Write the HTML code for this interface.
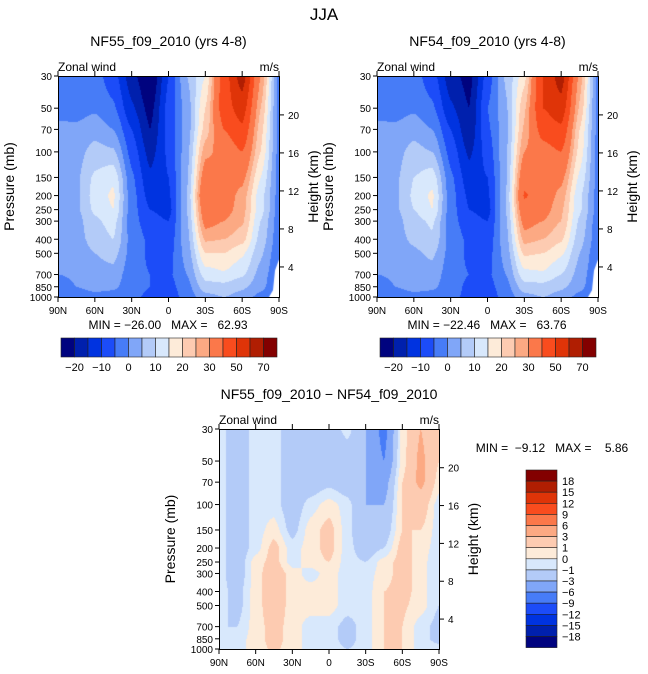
<!DOCTYPE html>
<html><head><meta charset="utf-8"><style>
html,body{margin:0;padding:0;background:#fff;}
#wrap{position:relative;width:648px;height:674px;overflow:hidden;font-family:"Liberation Sans",sans-serif;}
canvas{position:absolute;}
svg{position:absolute;left:0;top:0;}
text{font-family:"Liberation Sans",sans-serif;fill:#000;white-space:pre;}
</style></head><body>
<div id="wrap">
<canvas id="c1" width="221" height="221" style="left:58px;top:76px"></canvas>
<canvas id="c2" width="221" height="221" style="left:377px;top:76px"></canvas>
<canvas id="c3" width="220" height="220" style="left:219px;top:429px"></canvas>
<svg id="ov" width="648" height="674"></svg>
</div>
<script>
const lats=["90N","75N","60N","45N","30N","15N","0","15S","30S","45S","60S","75S","90S"];
const levels=[30,50,70,100,150,200,250,300,400,500,700,850,1000];
const pTicks=[30,50,70,100,150,200,250,300,400,500,700,850,1000];
const latTicks=["90N","60N","30N","0","30S","60S","90S"];
const hTicks=[4,8,12,16,20];
const bounds1=[-20,-15,-10,-5,0,5,10,15,20,25,30,40,50,60,70];
const cbLabels1=["-20","-10","0","10","20","30","50","70"];
const bounds3=[-18,-15,-12,-9,-6,-3,-1,0,1,3,6,9,12,15,18];
const cbLabels3=["-18","-15","-12","-9","-6","-3","-1","0","1","3","6","9","12","15","18"];
const colors=["#00037f","#0020ad","#0033e0","#1c4cf8","#477cf7","#80a6f8","#b3cbf8","#d8e8fc","#fdebd9","#fdcbb1","#fca983","#fb784a","#f94c1e","#df3408","#b01e02","#830000"];
const u55=[
[-3,-3,-3,-8,-18,-26,-10,5,15,45,65,30,-2],
[-3,-2,-1,-4,-14,-22,-8,2,20,45,55,25,-2],
[2,1,3,0,-10,-20,-8,2,22,40,48,22,-2],
[2,3,7,6,-7,-17,-9,3,28,33,40,20,-2],
[2,4,11,14,-4,-14,-10,4,35,32,32,15,-2],
[2,4,12,16,-3,-12,-11,5,40,34,28,12,-2],
[2,4,11,15,-3,-10,-12,5,36,33,27,12,-2],
[2,3,9,12,-3,-8,-10,4,33,30,26,10,-3],
[2,3,7,10,-2,-6,-8,3,26,25,22,8,-3],
[1,2,5,7,-2,-6,-7,2,20,20,16,6,-4],
[0,1,3,3,-3,-5,-6,0,12,14,11,3,-5],
[-3,0,2,1,-3,-5,-7,-2,8,8,6,2,-6],
[-5,-3,-2,-2,-4,-6,-8,-3,3,5,3,-2,-8]];
const u54=[
[-3,-3,-3,-8,-18,-22,-8,6,18,50,65,28,-2],
[-3,-2,-1,-4,-14,-20,-5,4,24,50,56,24,-2],
[2,1,3,0,-10,-19,-6,3,26,44,48,20,-2],
[2,3,7,5,-7,-16,-8,4,30,36,40,18,-2],
[2,4,10,13,-4,-13,-10,4,37,34,32,14,-2],
[2,4,11,16,-3,-11,-11,5,41,35,28,11,-2],
[2,4,10,15,-3,-10,-12,5,37,33,26,11,-2],
[2,3,8,11,-3,-8,-10,4,33,30,25,9,-3],
[2,3,6,9,-2,-6,-8,3,27,25,21,7,-3],
[1,2,4,6,-2,-6,-7,2,21,20,16,5,-4],
[0,1,3,3,-3,-5,-6,0,13,14,10,3,-5],
[-3,0,2,1,-3,-6,-7,-2,8,8,6,2,-6],
[-5,-3,-2,-2,-4,-6,-8,-3,3,5,3,-2,-8]];
const udiff=[
[-0.5,-2,-0.5,-0.5,-2,-3,-2,-0.5,-3,-7,0.5,3,1],
[-0.5,-2,-0.5,-0.5,-2,-2,-3,-2,-3,-6,0.5,3.5,1],
[-0.5,-2,-0.5,-0.5,-2,-2,-1.5,-2,-3,-4,1,3.5,0.5],
[-0.5,-2,-0.5,-0.5,-2,-0.5,0.5,-0.5,-3,-3,1,2,-0.5],
[-0.5,-2,-0.5,0.5,-1.5,0.5,1.5,-0.5,-3,-2,1,1,-0.5],
[-0.5,-2,-0.5,1.5,-0.5,0.5,1.5,-0.5,-2,-1,1.5,0.5,-0.5],
[-0.5,-2,0.5,1.5,-0.5,0.5,1,-0.5,-1,0.5,1.5,0.5,-1],
[-0.5,-2,0.5,2,0.5,-0.5,0.5,-0.5,-0.5,0.5,1.5,0.5,-1],
[-0.5,-1.5,0.5,2,0.5,0.5,0.5,-0.5,-0.5,1,1.5,0.5,-1],
[-0.5,-1.5,0.5,2,0.5,0.5,0.5,-0.5,-0.5,1,1.2,0.5,-1],
[-1,-1,0.5,1.5,0.5,-0.5,-0.5,-1.5,-0.5,1,1,-0.5,-1.5],
[-1,-0.5,0.5,1.5,0.5,-0.5,-0.5,-1.5,-0.5,1,1,-0.5,-1.5],
[-1,-0.5,0.5,1.2,0.5,-0.5,-0.5,-1,-0.5,1,1,-0.5,-0.5]];

const LR=Math.log(1000/30);
function yFrac(p){return Math.log(p/30)/LR;}
function colorFor(v,b){let i=0;while(i<b.length&&v>=b[i])i++;return colors[i];}
function sample(g,fx,fy){
  const cx=fx*(lats.length-1);const i0=Math.min(Math.floor(cx),lats.length-2);let tx=cx-i0;
  tx=tx*tx*(3-2*tx)*0.5+tx*0.5;
  const lp=Math.log(30)+fy*LR;let j0=0;
  while(j0<levels.length-2&&Math.log(levels[j0+1])<lp)j0++;
  const a=Math.log(levels[j0]),b=Math.log(levels[j0+1]);let ty=(lp-a)/(b-a);ty=Math.max(0,Math.min(1,ty));
  const v00=g[j0][i0],v01=g[j0][i0+1],v10=g[j0+1][i0],v11=g[j0+1][i0+1];
  return (v00*(1-tx)+v01*tx)*(1-ty)+(v10*(1-tx)+v11*tx)*ty;
}
function fill(id,g,b,mask){
  const c=document.getElementById(id),ctx=c.getContext('2d');const W=c.width,H=c.height;
  for(let py=0;py<H;py++)for(let px=0;px<W;px++){
    ctx.fillStyle=colorFor(sample(g,(px+0.5)/W,(py+0.5)/H),b);ctx.fillRect(px,py,1,1);}
  if(mask){ctx.fillStyle="#fff";ctx.beginPath();ctx.moveTo(W,H*0.83);ctx.lineTo(W-4,H*0.88);ctx.lineTo(W-6,H*0.97);ctx.lineTo(W-10,H);ctx.lineTo(W,H);ctx.fill();}
}
fill('c1',u55,bounds1,true);fill('c2',u54,bounds1,true);fill('c3',udiff,bounds3,false);

const NS="http://www.w3.org/2000/svg";const ov=document.getElementById('ov');
function el(tag,attrs,txt){const e=document.createElementNS(NS,tag);for(const k in attrs)e.setAttribute(k,attrs[k]);if(txt!==undefined)e.textContent=txt;ov.appendChild(e);return e;}
function txt(x,y,s,size,anchor,name,rot){const e=el('text',{x:x,y:y,'font-size':size,'text-anchor':anchor||'start'},s);


if(rot)e.setAttribute('transform','rotate(-90 '+x+' '+y+')');return e;}
function ln(x1,y1,x2,y2,name){const e=el('line',{x1:x1,y1:y1,x2:x2,y2:y2,stroke:'#000','stroke-width':1});

}

txt(324,20,"JJA",17,"middle","figure-title");
function axes(L,T,W,H,title,minmax,mmx,mmy){
  txt(L+W/2,T-30,title,14,"middle","panel-title");
  txt(L,T-5,"Zonal wind",12,"start","variable-label");
  txt(L+W,T-5,"m/s",12,"end","units-label");
  const r=el('rect',{x:L+0.5,y:T+0.5,width:W,height:H,fill:'none',stroke:'#000','stroke-width':1});
  
  
  pTicks.forEach(p=>{const y=T+H*yFrac(p);ln(L-4,y,L,y,'y-tick');txt(L-6,y+4,String(p),10,"end","y-tick-label");});
  latTicks.forEach((s,i)=>{const x=L+W*i/(latTicks.length-1);ln(x,T+H,x,T+H+5,'x-tick');ln(x,T-5,x,T,'x-tick-top');txt(x,T+H+17,s,10,"middle","x-tick-label");});
  hTicks.forEach(z=>{const y=T+H*(1.036-0.043*z);ln(L+W,y,L+W+5,y,'height-tick');txt(L+W+9,y+4,String(z),10,"start","height-tick-label");});
  txt(L-44,T+H/2,"Pressure (mb)",14,"middle","y-axis-title",true);
  txt(L+W+39,T+H/2,"Height (km)",14,"middle","height-axis-title",true);
  txt(mmx,mmy,minmax,12,"middle","min-max-label");
}
axes(58,76,221,221,"NF55_f09_2010 (yrs 4-8)","MIN = \u221226.00   MAX =   62.93",168,329);
axes(377,76,221,221,"NF54_f09_2010 (yrs 4-8)","MIN = \u221222.46   MAX =   63.76",487,329);
axes(219,429,220,220,"NF55_f09_2010 \u2212 NF54_f09_2010","MIN =  \u22129.12   MAX =    5.86",552,452);

function hbar(L,T){
  const bw=13.5,bh=19;
  colors.forEach((c,i)=>{const r=el('rect',{x:L+i*bw,y:T,width:bw,height:bh,fill:c,stroke:'#222','stroke-width':0.6});
  
  });
  cbLabels1.forEach((s,k)=>{const x=L+bw*(1+2*k);txt(x,T+bh+14,s.replace('-','\u2212'),11,"middle","colorbar-label");});
}
hbar(61,338);hbar(380,338);
(function(){const L=526,T=470,bw=31,bh=11.1;
  colors.slice().reverse().forEach((c,i)=>{const r=el('rect',{x:L,y:T+i*bh,width:bw,height:bh,fill:c,stroke:'#222','stroke-width':0.6});
  
  });
  cbLabels3.slice().reverse().forEach((s,i)=>{txt(L+bw+5,T+bh*(i+1)+4,s.replace('-','\u2212'),11,"start","colorbar-label");});
})();
</script>
</body></html>
